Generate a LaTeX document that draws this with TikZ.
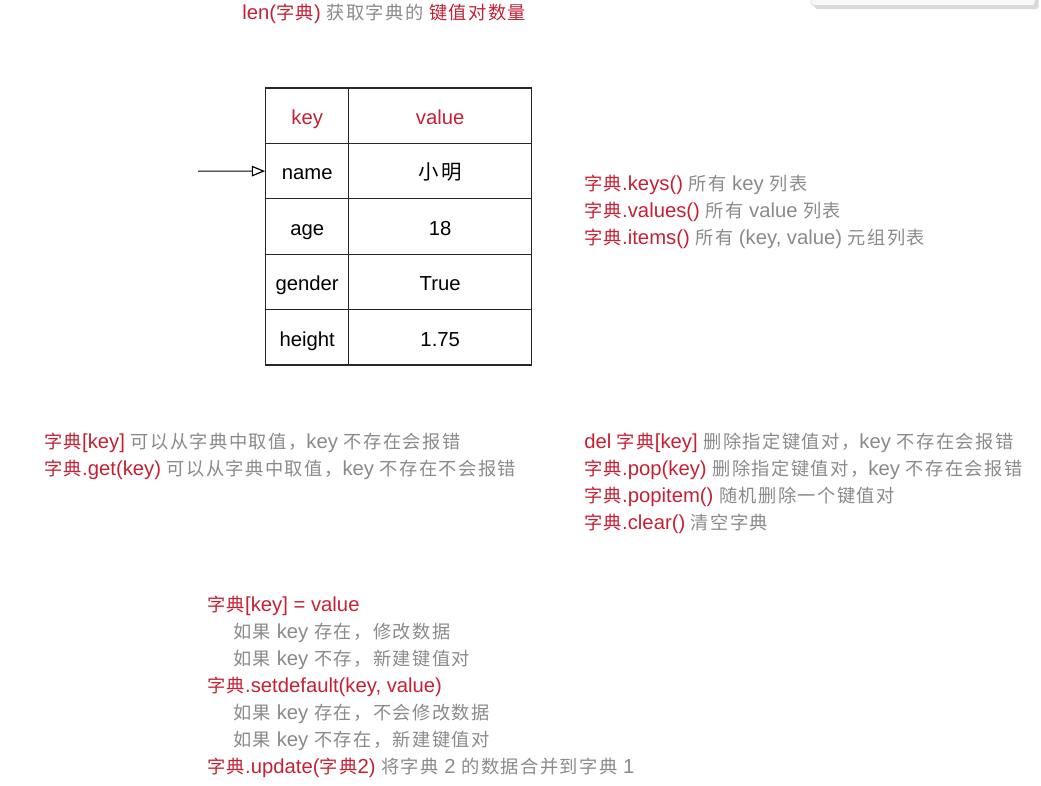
\documentclass[tikz,border=0pt]{standalone}
\usepackage{fontspec}
\setmainfont{Liberation Sans}
\newfontfamily\zh{Noto Sans CJK SC}[Scale=0.9,LetterSpace=8]
\usetikzlibrary{arrows.meta,shadows}
\definecolor{dictred}{RGB}{197,33,52}
\definecolor{dictgray}{RGB}{138,138,138}
\newcommand\kw[1]{\textcolor{dictred}{#1}}
\tikzset{
  cell/.style={draw=black!85,line width=0.9pt,minimum height=41.55pt,inner sep=0pt,
    text height=13.2pt,text depth=0pt},
  keycell/.style={cell,minimum width=62.25pt},
  valcell/.style={cell,minimum width=137.25pt},
  line/.style={anchor=base west,inner sep=0pt,text=dictgray}
}
\begin{document}
\begin{tikzpicture}[x=0.75pt,y=-0.75pt,font=\fontsize{15.2}{18}\selectfont]
\useasboundingbox (0,0) rectangle (1041,785);
\draw[draw=black!15,fill=black!3,rounded corners=2pt,drop shadow={opacity=0.3}] (811,-12) rectangle (1035,5.5);
\node[line] (title) at (242,19) {\kw{len({\zh 字典})} {\zh 获取字典的} \kw{\zh 键值对数量}};
% table
\node[keycell] (k0) at (307.2,115.7) {\kw{key}};
\node[valcell] (v0) at (440.2,115.7) {\kw{value}};
\foreach \k/\v [count=\i] in {name/{\zh\fontsize{17}{20}\selectfont 小明},age/18,gender/True,height/1.75}
  \node[keycell] (k\i) at (307.2,115.7+55.4*\i) {\k}
    node[valcell] (v\i) at (440.2,115.7+55.4*\i) {\v};
\coordinate (ref) at (198,171.1);
\draw[line width=0.9pt,-{Triangle[open,length=10pt,width=8pt]}] (ref) -- (k1.west);
% query
\node[line] (keys) at (584,190) {\kw{{\zh 字典}.keys()} {\zh 所有} key {\zh 列表}};
\node[line] (values) at (584,217) {\kw{{\zh 字典}.values()} {\zh 所有} value {\zh 列表}};
\node[line] (items) at (584,244) {\kw{{\zh 字典}.items()} {\zh 所有} (key, value) {\zh 元组列表}};
\node[line] (getidx) at (44,448) {\kw{{\zh 字典}[key]} {\zh 可以从字典中取值，}key {\zh 不存在会报错}};
\node[line] (getfn) at (44,475) {\kw{{\zh 字典}.get(key)} {\zh 可以从字典中取值，}key {\zh 不存在不会报错}};
% delete
\node[line] (delidx) at (584,448) {\kw{del {\zh 字典}[key]} {\zh 删除指定键值对，}key {\zh 不存在会报错}};
\node[line] (pop) at (584,475) {\kw{{\zh 字典}.pop(key)} {\zh 删除指定键值对，}key {\zh 不存在会报错}};
\node[line] (popitem) at (584,502) {\kw{{\zh 字典}.popitem()} {\zh 随机删除一个键值对}};
\node[line] (clear) at (584,529) {\kw{{\zh 字典}.clear()} {\zh 清空字典}};
% modify
\node[line] (setidx) at (207,611) {\kw{{\zh 字典}[key] = value}};
\node[line] (setidxa) at (233,638) {{\zh 如果} key {\zh 存在，修改数据}};
\node[line] (setidxb) at (233,665) {{\zh 如果} key {\zh 不存，新建键值对}};
\node[line] (setdef) at (207,692) {\kw{{\zh 字典}.setdefault(key, value)}};
\node[line] (setdefa) at (233,719) {{\zh 如果} key {\zh 存在，不会修改数据}};
\node[line] (setdefb) at (233,746) {{\zh 如果} key {\zh 不存在，新建键值对}};
\node[line] (update) at (207,773) {\kw{{\zh 字典}.update({\zh 字典}2)} {\zh 将字典} 2 {\zh 的数据合并到字典} 1};
\end{tikzpicture}
\end{document}
